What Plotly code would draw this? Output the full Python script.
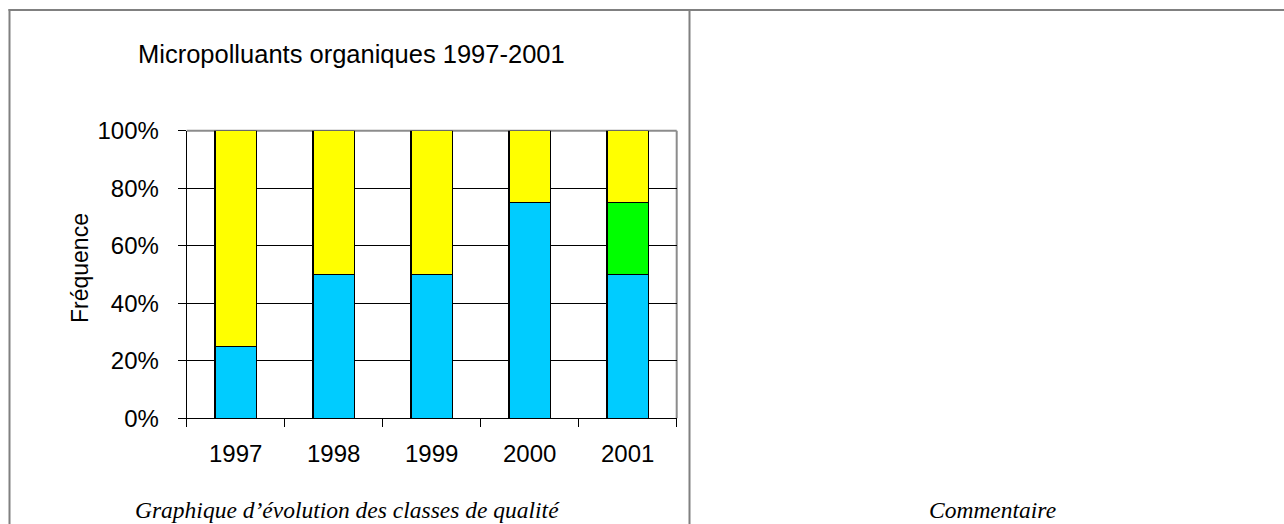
import plotly.graph_objects as go

# Data: share of each quality class per year (%)
years = ["1997", "1998", "1999", "2000", "2001"]
bleu = [25, 50, 50, 75, 50]
vert = [0, 0, 0, 0, 25]
jaune = [75, 50, 50, 25, 25]
y_ticks = [0, 20, 40, 60, 80, 100]
y_tick_text = ["0%", "20%", "40%", "60%", "80%", "100%"]

W, H = 1284, 524
px = lambda v: v / W
py = lambda v: 1 - v / H

outline = dict(color="black", width=1.5)
fig = go.Figure()
fig.add_bar(x=years, y=bleu, marker=dict(color="#00CCFF", line=outline), name="bleu")
fig.add_bar(x=years, y=vert, marker=dict(color="#00FF00", line=outline), name="vert")
fig.add_bar(x=years, y=jaune, marker=dict(color="#FFFF00", line=outline), name="jaune")

x0, x1 = 186.7, 676.7
y0, y1 = 130.7, 418.3

font = "Liberation Sans, Arial, sans-serif"
serif = "Liberation Serif, Times New Roman, serif"

fig.update_layout(
    template="none",
    width=W, height=H, autosize=False,
    margin=dict(l=0, r=0, t=0, b=0, pad=0, autoexpand=False),
    paper_bgcolor="white", plot_bgcolor="white",
    barmode="stack", bargap=0.58, showlegend=False,
    font=dict(family=font, size=24, color="black"),
    xaxis=dict(
        domain=[px(x0), px(x1)], type="category", automargin=False,
        showline=True, linecolor="black", linewidth=1,
        ticks="outside", ticklen=8, tickcolor="black", tickwidth=1,
        tickson="boundaries", showgrid=False, zeroline=False,
        ticklabelstandoff=14, tickfont=dict(size=24),
    ),
    yaxis=dict(
        domain=[py(y1), py(y0)], range=[0, 100], automargin=False,
        tickvals=y_ticks, ticktext=y_tick_text,
        showline=True, linecolor="black", linewidth=1,
        ticks="outside", ticklen=8, tickcolor="black", tickwidth=1,
        showgrid=False, zeroline=False,
        ticklabelstandoff=14, tickfont=dict(size=24),
        minor=dict(tickvals=[20, 40, 60, 80], showgrid=True,
                   gridcolor="black", gridwidth=1, ticks=""),
    ),
    shapes=[
        # plot area top and right border
        dict(type="line", xref="paper", yref="paper", x0=px(x0), x1=px(x1),
             y0=py(y0), y1=py(y0), line=dict(color="#8c8c8c", width=2), layer="below"),
        dict(type="line", xref="paper", yref="paper", x0=px(x1), x1=px(x1),
             y0=py(y0), y1=py(y1), line=dict(color="#8c8c8c", width=2), layer="below"),
        # table frame
        dict(type="line", xref="paper", yref="paper", x0=px(8.5), x1=1,
             y0=py(10), y1=py(10), line=dict(color="#808080", width=2)),
        dict(type="line", xref="paper", yref="paper", x0=px(9.5), x1=px(9.5),
             y0=py(9), y1=0, line=dict(color="#808080", width=2)),
        dict(type="line", xref="paper", yref="paper", x0=px(689.5), x1=px(689.5),
             y0=py(9), y1=0, line=dict(color="#808080", width=2)),
    ],
    annotations=[
        dict(text="Micropolluants organiques 1997-2001", xref="paper", yref="paper",
             x=px(351), y=py(54), xanchor="center", yanchor="middle",
             showarrow=False, font=dict(family=font, size=25.5)),
        dict(text="Fréquence", xref="paper", yref="paper",
             x=px(80), y=py(268), xanchor="center", yanchor="middle",
             textangle=-90, showarrow=False, font=dict(family=font, size=23)),
        dict(text="Graphique d’évolution des classes de qualité", xref="paper", yref="paper",
             x=px(348), y=py(510), xanchor="center", yanchor="middle",
             showarrow=False, font=dict(family=serif, size=23.5, style="italic")),
        dict(text="Commentaire", xref="paper", yref="paper",
             x=px(992), y=py(510), xanchor="center", yanchor="middle",
             showarrow=False, font=dict(family=serif, size=23.5, style="italic")),
    ],
)

fig.write_html("out.html")
